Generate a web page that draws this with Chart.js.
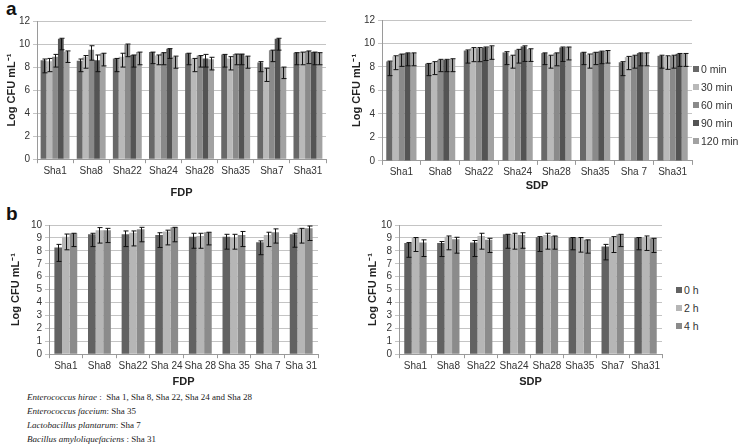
<!DOCTYPE html>
<html><head><meta charset="utf-8">
<script src="https://cdn.jsdelivr.net/npm/chart.js@4"></script>
<style>
html,body{margin:0;padding:0;background:#fff;}
body{width:739px;height:444px;position:relative;overflow:hidden;font-family:"Liberation Sans",Arial,sans-serif;}
canvas{position:absolute;}
.panel{position:absolute;font-weight:bold;font-size:19px;color:#111;line-height:1;}
.leg{position:absolute;font-size:10.5px;color:#333;line-height:18px;}
.leg div{height:18px;white-space:nowrap;}
.leg span{display:inline-block;width:6px;height:6px;margin-right:2px;vertical-align:1px;}
.foot{position:absolute;left:27px;font-family:"Liberation Serif","Times New Roman",serif;font-size:9px;color:#222;white-space:nowrap;}
.foot i{font-style:italic;}
</style></head>
<body>
<div class="panel" style="left:6px;top:-1px">a</div>
<div class="panel" style="left:6px;top:204px">b</div>
<canvas id="c1" width="330" height="200" style="left:0;top:0"></canvas>
<canvas id="c2" width="350" height="193" style="left:345px;top:0"></canvas>
<canvas id="c3" width="322" height="189" style="left:0;top:200px"></canvas>
<canvas id="c4" width="300" height="189" style="left:365px;top:200px"></canvas>
<div class="leg" id="leg1" style="left:693px;top:60px"></div>
<div class="leg" id="leg2" style="left:676px;top:281px"></div>
<div class="foot" style="top:392px"><i>Enterococcus hirae</i> :&nbsp; Sha 1, Sha 8, Sha 22, Sha 24 and Sha 28</div>
<div class="foot" style="top:406px"><i>Enterococcus faceium</i>: Sha 35</div>
<div class="foot" style="top:420px"><i>Lactobacillus plantarum</i>: Sha 7</div>
<div class="foot" style="top:434px"><i>Bacillus amyloliquefaciens</i> : Sha 31</div>
<script>
// ---------- DATA ----------
const catsAL = ["Sha1","Sha8","Sha22","Sha24","Sha28","Sha35","Sha7","Sha31"];
const catsAR = ["Sha1","Sha8","Sha22","Sha24","Sha28","Sha35","Sha 7","Sha31"];
const catsBL = ["Sha1","Sha8","Sha22","Sha 24","Sha 28","Sha 35","Sha 7","Sha 31"];
const catsBR = ["Sha1","Sha8","Sha22","Sha24","Sha28","Sha35","Sha7","Sha31"];
const seriesA = ["0 min","30 min","60 min","90 min","120 min"];
const seriesB = ["0 h","2 h","4 h"];
const yTicksA = [0,2,4,6,8,10,12];
const yTicksB = [0,1,2,3,4,5,6,7,8,9,10];

// Panel a, FDP
const fdp0   = [8.6,8.55,8.75,9.3,9.2,9.1,8.4,9.25];
const fdp0Hi = [8.7,8.7,8.75,9.3,9.2,9.1,8.47,9.25];
const fdp0Lo = [7.5,7.6,7.6,8.3,8.2,8.0,7.6,8.2];
const fdp30   = [8.5,8.9,8.9,9.0,8.75,8.75,7.9,9.3];
const fdp30Hi = [8.75,9.0,9.2,9.05,8.75,8.9,7.9,9.3];
const fdp30Lo = [7.6,7.9,8.0,8.2,7.6,7.75,6.75,8.2];
const fdp60   = [8.9,9.5,9.95,9.25,9.0,9.13,9.45,9.4];
const fdp60Hi = [9.1,9.85,10.0,9.25,9.0,9.13,9.47,9.4];
const fdp60Lo = [8.0,8.6,8.9,8.2,8.0,8.2,8.47,8.3];
const fdp90   = [10.45,8.6,9.05,9.6,8.75,9.13,10.45,9.3];
const fdp90Hi = [10.5,9.05,9.05,9.6,9.1,9.13,10.5,9.3];
const fdp90Lo = [9.5,7.6,8.0,8.75,8.0,8.2,9.47,8.2];
const fdp120   = [9.35,9.2,9.3,8.9,8.67,8.95,8.0,9.25];
const fdp120Hi = [9.4,9.2,9.3,8.95,8.85,8.95,8.0,9.25];
const fdp120Lo = [8.4,8.1,8.2,7.9,7.75,7.9,7.0,8.2];

// Panel a, SDP
const sdp0   = [8.47,8.28,9.4,9.24,9.18,9.24,8.4,8.95];
const sdp0Hi = [8.5,8.3,9.45,9.3,9.2,9.25,8.45,9.0];
const sdp0Lo = [7.26,7.26,8.33,8.2,8.2,8.2,7.26,7.9];
const sdp30   = [8.9,8.4,9.6,8.95,8.95,9.04,8.84,8.9];
const sdp30Hi = [8.95,8.45,9.65,9.0,9.0,9.1,8.9,8.95];
const sdp30Lo = [7.77,7.35,8.45,7.9,7.9,7.9,7.77,7.8];
const sdp60   = [9.1,8.6,9.6,9.46,9.18,9.24,8.95,8.95];
const sdp60Hi = [9.1,8.65,9.65,9.5,9.2,9.25,9.0,9.0];
const sdp60Lo = [8.05,7.6,8.45,8.33,8.1,8.2,7.9,7.9];
const sdp90   = [9.18,8.6,9.66,9.75,9.66,9.32,9.18,9.12];
const sdp90Hi = [9.2,8.65,9.7,9.8,9.7,9.35,9.2,9.15];
const sdp90Lo = [8.1,7.6,8.55,8.47,8.47,8.28,8.1,8.05];
const sdp120   = [9.18,8.67,9.75,9.52,9.7,9.38,9.18,9.12];
const sdp120Hi = [9.2,8.7,9.8,9.55,9.7,9.4,9.2,9.15];
const sdp120Lo = [8.1,7.6,8.65,8.47,8.6,8.33,8.1,8.05];

// Panel b, FDP
const bf0   = [8.26,9.28,9.28,9.23,9.1,9.1,8.67,9.28];
const bf0Hi = [8.5,9.36,9.54,9.4,9.36,9.28,8.77,9.36];
const bf0Lo = [7.18,8.33,8.33,8.26,8.2,8.13,7.7,8.28];
const bf2   = [9.1,9.6,9.4,9.5,9.15,9.03,9.23,9.74];
const bf2Hi = [9.3,9.8,9.54,9.6,9.36,9.28,9.44,9.74];
const bf2Lo = [8.08,8.6,8.38,8.46,8.2,8.13,8.33,8.6];
const bf4   = [9.36,9.6,9.67,9.82,9.44,9.23,9.44,9.74];
const bf4Hi = [9.36,9.74,9.82,9.82,9.44,9.5,9.7,9.92];
const bf4Lo = [8.33,8.64,8.7,8.7,8.46,8.33,8.6,8.8];

// Panel b, SDP
const bs0   = [8.6,8.6,8.64,9.28,9.05,9.03,8.33,9.03];
const bs0Hi = [8.64,8.72,8.8,9.28,9.1,9.03,8.5,9.03];
const bs0Lo = [7.5,7.56,7.56,8.2,7.95,8.08,7.3,8.08];
const bs2   = [9.03,9.1,9.15,9.28,9.23,9.03,9.03,9.03];
const bs2Hi = [9.03,9.15,9.36,9.36,9.36,9.03,9.1,9.15];
const bs2Lo = [7.95,8.08,8.13,8.13,8.13,7.9,7.87,8.03];
const bs4   = [8.64,8.9,8.85,9.23,9.15,8.85,9.28,8.97];
const bs4Hi = [8.85,9.05,8.97,9.4,9.15,8.85,9.28,8.97];
const bs4Lo = [7.56,7.82,7.87,8.2,8.13,7.82,8.33,7.87];

// ---------- STYLE ----------
const colorsA = ['#686868','#b9b9b9','#8a8a8a','#545454','#a2a2a2'];
const colorsB = ['#626262','#b6b6b6','#8b8b8b'];
const FONT = '"Liberation Sans", Arial, sans-serif';

const errorBars = {
  id: 'errorBars',
  afterDatasetsDraw(chart) {
    const ctx = chart.ctx, ys = chart.scales.y;
    ctx.save();
    ctx.strokeStyle = '#111';
    ctx.lineWidth = 1;
    chart.data.datasets.forEach((ds, di) => {
      const meta = chart.getDatasetMeta(di);
      meta.data.forEach((bar, i) => {
        const x = Math.round(bar.x) + 0.5;
        const yh = ys.getPixelForValue(ds.errHi[i]);
        const yl = ys.getPixelForValue(ds.errLo[i]);
        ctx.beginPath();
        ctx.moveTo(x, yh); ctx.lineTo(x, yl);
        ctx.moveTo(x - 2, yh); ctx.lineTo(x + 3, yh);
        ctx.moveTo(x - 2, yl); ctx.lineTo(x + 3, yl);
        ctx.stroke();
      });
    });
    ctx.restore();
  }
};

function makeChart(id, cats, names, colors, vals, his, los, o) {
  const datasets = names.map((n, k) => ({
    label: n, data: vals[k], errHi: his[k], errLo: los[k],
    backgroundColor: colors[k], borderWidth: 0,
    barPercentage: 1.0, categoryPercentage: o.cat
  }));
  return new Chart(document.getElementById(id), {
    type: 'bar',
    data: { labels: cats, datasets },
    options: {
      responsive: false, animation: false,
      layout: { padding: { top: o.padTop, right: o.padRight, bottom: 0.8, left: 0 } },
      plugins: { legend: { display: false }, tooltip: { enabled: false } },
      scales: {
        x: {
          afterFit(s) { s.height = o.xH; },
          grid: { offset: true, drawOnChartArea: false, drawTicks: true, tickLength: 4, color: '#9a9a9a' },
          border: { display: true, color: '#9a9a9a' },
          ticks: { font: { family: FONT, size: 10 }, color: '#333', padding: o.xPad, maxRotation: 0, autoSkip: false },
          title: { display: true, text: o.xTitle, font: { family: FONT, size: 11, weight: 'bold' }, color: '#222', padding: { top: 0, bottom: 0 } }
        },
        y: {
          min: o.ticks[0], max: o.ticks[o.ticks.length - 1],
          afterFit(s) { s.width = o.yW; },
          afterBuildTicks(s) { s.ticks = o.ticks.map(v => ({ value: v })); },
          grid: { color: '#c4c4c4', drawTicks: true, tickLength: 4 },
          border: { display: true, color: '#9a9a9a' },
          ticks: { font: { family: FONT, size: 10 }, color: '#333', padding: 3, autoSkip: false },
          title: { display: true, text: 'Log CFU mL\u207B\u00B9', font: { family: FONT, size: 11, weight: 'bold' }, color: '#222', padding: { top: o.yTitlePad, bottom: 0 } }
        }
      }
    },
    plugins: [errorBars]
  });
}

makeChart('c1', catsAL, seriesA, colorsA,
  [fdp0, fdp30, fdp60, fdp90, fdp120],
  [fdp0Hi, fdp30Hi, fdp60Hi, fdp90Hi, fdp120Hi],
  [fdp0Lo, fdp30Lo, fdp60Lo, fdp90Lo, fdp120Lo],
  { cat: 0.8, padTop: 21, padRight: 4, xH: 40, xPad: 1.8, xTitle: 'FDP', yW: 37, yTitlePad: 5.5, ticks: yTicksA });

makeChart('c2', catsAR, seriesA, colorsA,
  [sdp0, sdp30, sdp60, sdp90, sdp120],
  [sdp0Hi, sdp30Hi, sdp60Hi, sdp90Hi, sdp120Hi],
  [sdp0Lo, sdp30Lo, sdp60Lo, sdp90Lo, sdp120Lo],
  { cat: 0.78, padTop: 20, padRight: 3, xH: 31.3, xPad: 1.2, xTitle: 'SDP', yW: 37, yTitlePad: 5.5, ticks: yTicksA });

makeChart('c3', catsBL, seriesB, colorsB,
  [bf0, bf2, bf4], [bf0Hi, bf2Hi, bf4Hi], [bf0Lo, bf2Lo, bf4Lo],
  { cat: 0.68, padTop: 25, padRight: 4, xH: 34, xPad: 1.8, xTitle: 'FDP', yW: 49, yTitlePad: 9.5, ticks: yTicksB });

makeChart('c4', catsBR, seriesB, colorsB,
  [bs0, bs2, bs4], [bs0Hi, bs2Hi, bs4Hi], [bs0Lo, bs2Lo, bs4Lo],
  { cat: 0.68, padTop: 25, padRight: 3, xH: 34, xPad: 1.8, xTitle: 'SDP', yW: 34, yTitlePad: 1.5, ticks: yTicksB });

function legend(id, names, colors) {
  const el = document.getElementById(id);
  names.forEach((n, k) => {
    const d = document.createElement('div');
    const s = document.createElement('span');
    s.style.background = colors[k];
    d.appendChild(s);
    d.appendChild(document.createTextNode(n));
    el.appendChild(d);
  });
}
legend('leg1', seriesA, colorsA);
legend('leg2', seriesB, colorsB);
</script>
</body></html>
